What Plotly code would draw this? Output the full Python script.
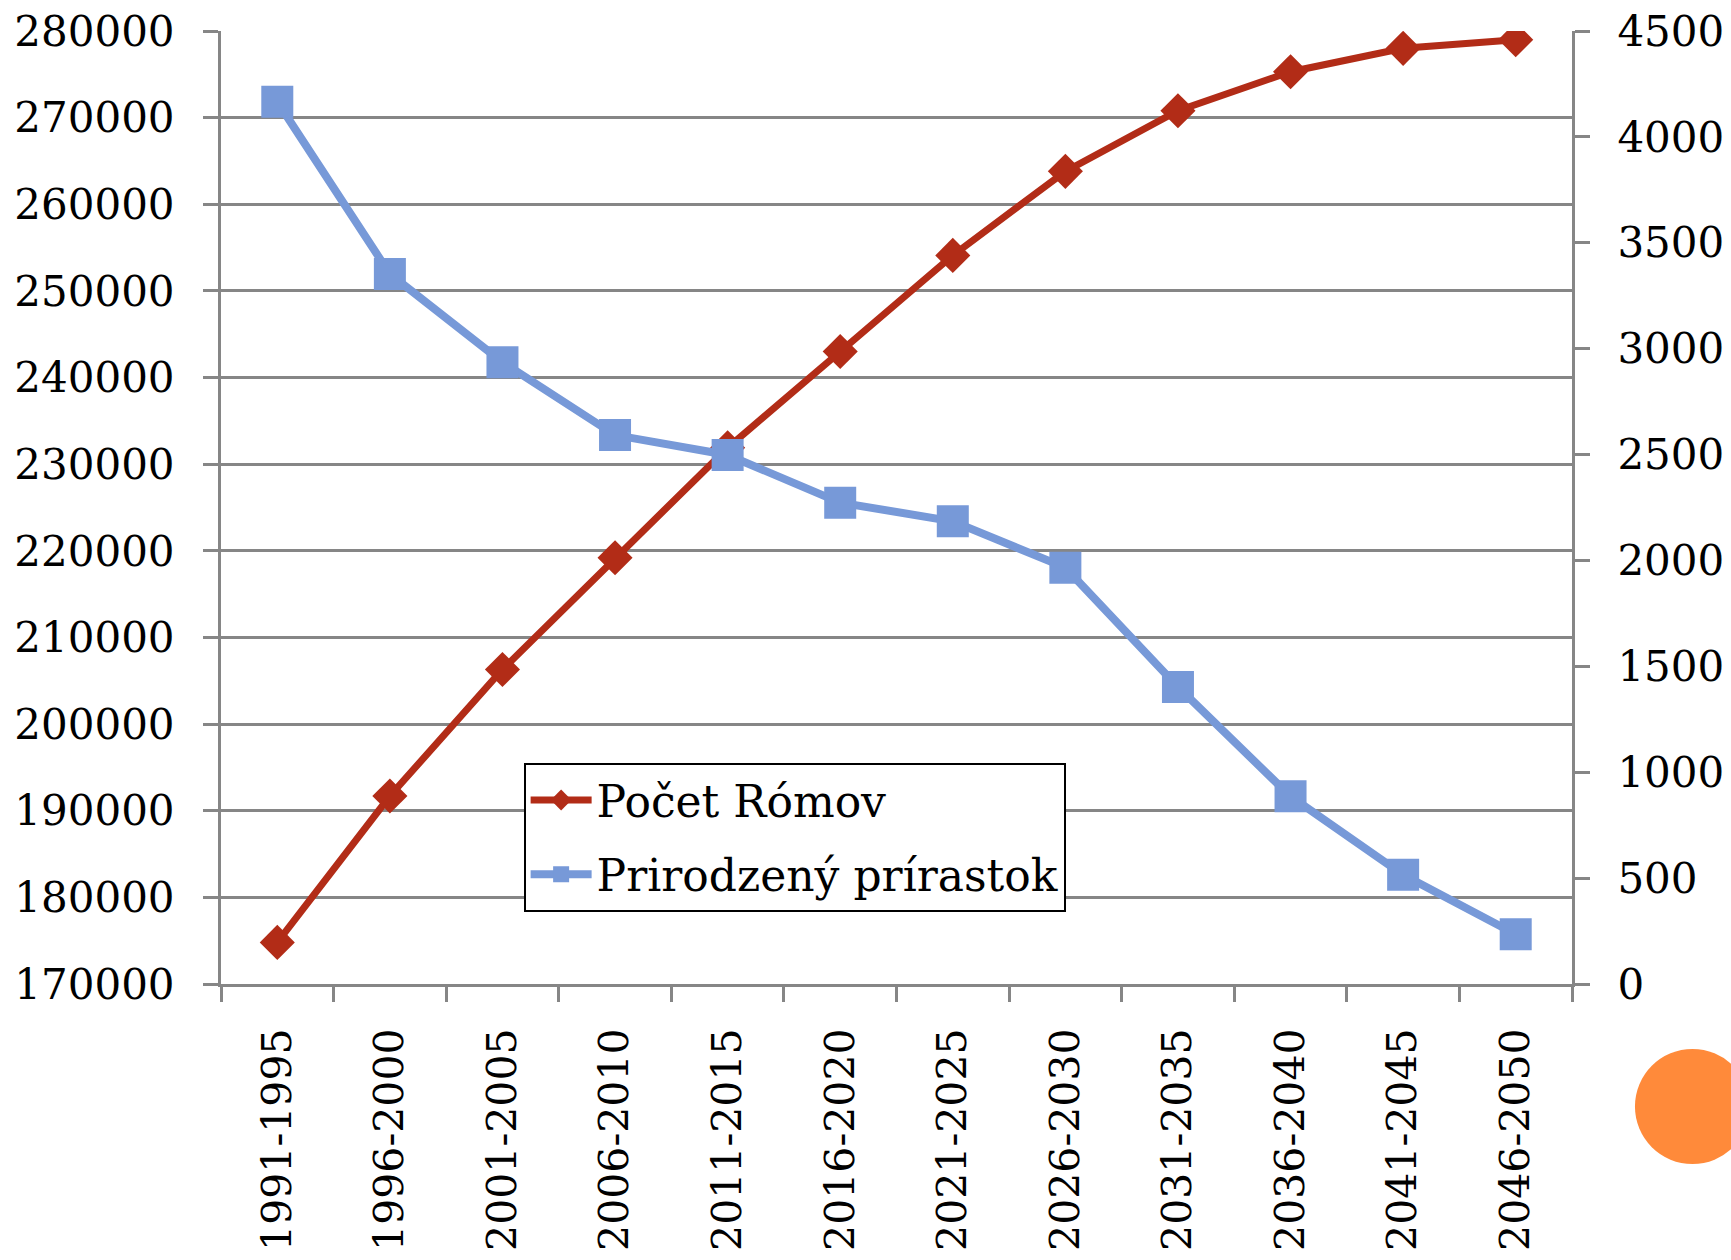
import plotly.graph_objects as go

categories = ["1991-1995", "1996-2000", "2001-2005", "2006-2010", "2011-2015", "2016-2020",
              "2021-2025", "2026-2030", "2031-2035", "2036-2040", "2041-2045", "2046-2050"]
pocet_romov = [174800, 191700, 206300, 219200, 231900, 243000, 254100, 263800, 270800, 275300, 278000, 279000]
prirodzeny_prirastok = [4166, 3353, 2936, 2592, 2498, 2273, 2185, 1966, 1403, 886, 516, 235]

FONT = "DejaVu Serif"
RED = "#B22C17"
BLUE = "#7799D8"
GRID = "#868686"

fig = go.Figure()
fig.add_trace(go.Scatter(
    x=categories, y=pocet_romov, name="Počet Rómov", mode="lines+markers",
    line=dict(color=RED, width=7), marker=dict(symbol="diamond", size=27, color=RED),
    yaxis="y", legendgroup="a"))
fig.add_trace(go.Scatter(
    x=categories, y=prirodzeny_prirastok, name="Prirodzený prírastok", mode="lines+markers",
    line=dict(color=BLUE, width=8), marker=dict(symbol="square", size=32, color=BLUE),
    yaxis="y2", legendgroup="b"))

fig.update_layout(
    width=1731, height=1260,
    margin=dict(l=221, r=159, t=31, b=276, autoexpand=False),
    paper_bgcolor="white", plot_bgcolor="white",
    font=dict(family=FONT, size=42, color="black"),
    showlegend=True,
    legend=dict(x=0.224, y=0.232, xanchor="left", yanchor="top",
                bgcolor="white", bordercolor="black", borderwidth=2,
                font=dict(family=FONT, size=44, color="black"),
                itemwidth=61, traceorder="grouped", tracegroupgap=14),
    xaxis=dict(type="category", showline=True, linecolor=GRID, linewidth=3,
               ticks="outside", ticklen=15, tickwidth=2.5, tickcolor=GRID,
               tickson="boundaries", tickangle=-90, showgrid=False, automargin=False,
               tickfont=dict(family=FONT, size=41, color="black"),
               ticklabelstandoff=25, range=[-0.5, 11.5]),
    yaxis=dict(range=[170000, 280000], dtick=10000, tickformat="d", automargin=False,
               showline=True, linecolor=GRID, linewidth=3,
               ticks="outside", ticklen=15, tickwidth=2.5, tickcolor=GRID,
               showgrid=True, gridcolor=GRID, gridwidth=2.5, zeroline=False,
               tickfont=dict(family=FONT, size=42, color="black"),
               ticklabelstandoff=20),
    yaxis2=dict(range=[0, 4500], dtick=500, tickformat="d", overlaying="y", side="right",
                automargin=False,
                showline=True, linecolor=GRID, linewidth=3,
                ticks="outside", ticklen=15, tickwidth=2.5, tickcolor=GRID,
                showgrid=False, zeroline=False,
                tickfont=dict(family=FONT, size=42, color="black"),
                ticklabelstandoff=19),
    shapes=[dict(type="circle", xref="paper", yref="paper",
                 x0=1.0466, x1=1.1318, y0=-0.1889, y1=-0.0682,
                 fillcolor="#FF8A3A", line=dict(width=0), layer="above")],
)

fig.write_html("out.html", config={"displayModeBar": False},
               post_script="document.body.style.margin='0';document.body.style.overflow='hidden';")
